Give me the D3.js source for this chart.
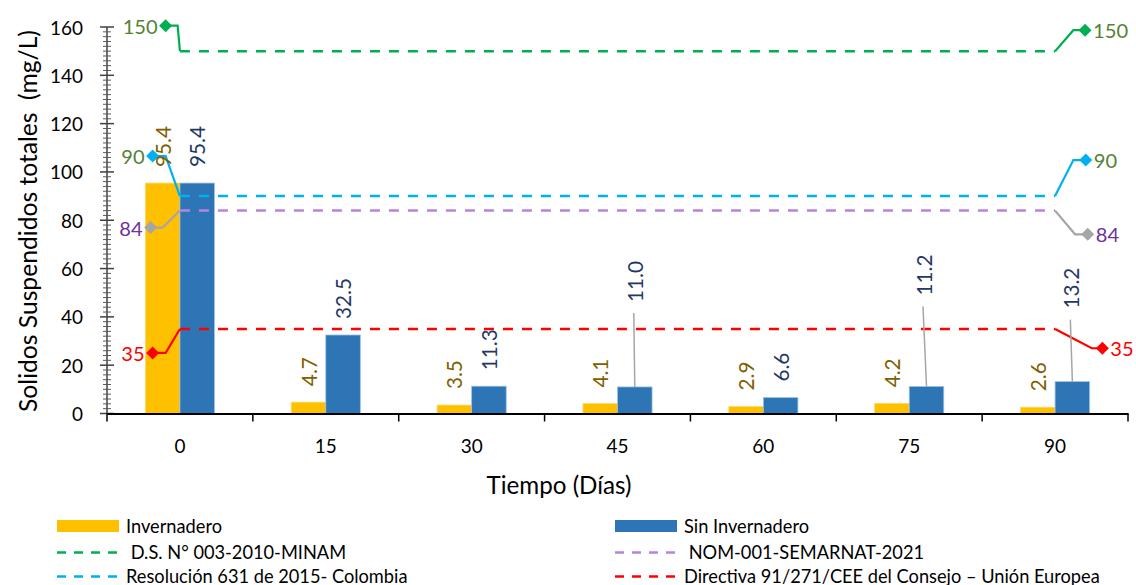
<!DOCTYPE html>
<html>
<head>
<meta charset="utf-8">
<script src="https://cdn.jsdelivr.net/npm/d3@7/dist/d3.min.js"></script>
<style>
  html, body { margin: 0; padding: 0; background: #fff; }
  svg { display: block; font-family: Lato, "Open Sans", sans-serif; }
</style>
</head>
<body>
<svg id="chart" width="1136" height="585"></svg>
<script>
// ---------------- DATA ----------------
const categories = ["0", "15", "30", "45", "60", "75", "90"];
const invernadero = [95.4, 4.7, 3.5, 4.1, 2.9, 4.2, 2.6];
const sinInvernadero = [95.4, 32.5, 11.3, 11.0, 6.6, 11.2, 13.2];
const yTicks = [0, 20, 40, 60, 80, 100, 120, 140, 160];
const limitNames = [" D.S. N° 003-2010-MINAM", " NOM-001-SEMARNAT-2021", "Resolución 631 de 2015- Colombia", "Directiva 91/271/CEE del Consejo – Unión Europea"];
const limitValues = [150, 84, 90, 35];
const limitLabels = ["150", "84", "90", "35"];
const seriesNames = ["Invernadero", "Sin Invernadero"];
const yTitle = "Solidos Suspendidos totales  (mg/L)";
const xTitle = "Tiempo (Días)";

// ---------------- STYLE / LAYOUT ----------------
const barColors = ["#FFC000", "#2E75B6"];
const valueLabelColors = ["#7F6000", "#1F3864"];
const limitColors = ["#00B050", "#B584E2", "#00B0F0", "#FF0000"];
const calloutLineColors = ["#00B050", "#A6A6A6", "#00B0F0", "#FF0000"];
const calloutLabelColors = ["#548235", "#7030A0", "#548235", "#FF0000"];
// callout geometry (px offsets from line ends): [kneeDx, dy, diamondDx]
const leftCallout = [[-2.3, -25.5, -14.3], [-17.3, 17, -29.3], [-14.3, -40, -27.3], [-14.3, 24, -27.3]];
const rightCallout = [[18.3, -21, 30], [20, 23.7, 32.7], [18.3, -36, 30.7], [36.7, 19.3, 47.3]];
// displaced value labels for "Sin Invernadero" (px lift, px dx), 0 = normal
const sinLabelLift = [0, 0, 0, 69, 0, 75, 57];
const sinLabelDx = [0, 0, 0, 0, 0, -2.5, -1];

const svg = d3.select("#chart");

// font-size fitting so text widths match the reference sizes
function fitSize(sample, targetWidth) {
  const t = svg.append("text").attr("font-size", 100).style("white-space", "pre").text(sample);
  const w = t.node().getComputedTextLength();
  t.remove();
  return w > 0 ? 100 * targetWidth / w : 18;
}
const fsYTick = fitSize("160", 33);
const fsXTick = fitSize("15", 22);
const fsValue = fitSize("32.5", 41);
const fsCallout = fitSize("150", 35);
const fsXTitle = fitSize(xTitle, 145);
const fsYTitle = fitSize(yTitle, 382);
const fsLegend = fitSize("Invernadero", 96);

const x = d3.scaleBand().domain(categories).range([107, 1128]).padding(0);
const y = d3.scaleLinear().domain([0, 160]).range([413.5, 27]);
const bw = x.bandwidth() * 0.237;
const cx = c => x(c) + x.bandwidth() / 2;

// ---------------- BARS ----------------
const seriesData = [invernadero, sinInvernadero];
seriesData.forEach((vals, si) => {
  svg.append("g").selectAll("rect").data(vals).join("rect")
    .attr("x", (d, i) => cx(categories[i]) + (si === 0 ? -bw : 0))
    .attr("y", d => y(d))
    .attr("width", bw)
    .attr("height", d => y(0) - y(d))
    .attr("fill", barColors[si])
    .attr("stroke", si === 0 ? "#FFD966" : "#9DC3E6")
    .attr("stroke-width", 0.8);
});

// ---------------- LIMIT LINES ----------------
const xStart = cx(categories[0]);
const xEnd = cx(categories[categories.length - 1]);
const diamond = (px, py, r) => `M${px},${py - r}L${px + r},${py}L${px},${py + r}L${px - r},${py}Z`;
limitValues.forEach((v, i) => {
  const g = svg.append("g");
  g.append("line")
    .attr("x1", xStart).attr("x2", xEnd)
    .attr("y1", y(v)).attr("y2", y(v))
    .attr("stroke", limitColors[i]).attr("stroke-width", 2.5)
    .attr("stroke-dasharray", "10,9");
  const [lk, ldy, ld] = leftCallout[i];
  const ly = y(v) + ldy;
  g.append("path")
    .attr("d", `M${xStart},${y(v)}L${xStart + lk},${ly}L${xStart + ld},${ly}`)
    .attr("fill", "none").attr("stroke", calloutLineColors[i]).attr("stroke-width", 2.2);
  g.append("path").attr("d", diamond(xStart + ld, ly, 6.5)).attr("fill", calloutLineColors[i]);
  g.append("text")
    .attr("x", xStart + ld - 8).attr("y", ly)
    .attr("text-anchor", "end").attr("dominant-baseline", "central")
    .attr("font-size", fsCallout).attr("fill", calloutLabelColors[i])
    .text(limitLabels[i]);
  const [rk, rdy, rd] = rightCallout[i];
  const ry = y(v) + rdy;
  g.append("path")
    .attr("d", `M${xEnd},${y(v)}L${xEnd + rk},${ry}L${xEnd + rd},${ry}`)
    .attr("fill", "none").attr("stroke", calloutLineColors[i]).attr("stroke-width", 2.2);
  g.append("path").attr("d", diamond(xEnd + rd, ry, 6.5)).attr("fill", calloutLineColors[i]);
  g.append("text")
    .attr("x", xEnd + rd + 8).attr("y", ry)
    .attr("text-anchor", "start").attr("dominant-baseline", "central")
    .attr("font-size", fsCallout).attr("fill", calloutLabelColors[i])
    .text(limitLabels[i]);
});

// ---------------- VALUE LABELS ----------------
seriesData.forEach((vals, si) => {
  vals.forEach((v, i) => {
    const bx = cx(categories[i]) + (si === 0 ? -bw / 2 : bw / 2);
    const lift = si === 1 ? sinLabelLift[i] : 0;
    const ldx = si === 1 ? sinLabelDx[i] : 0;
    const startY = y(v) - 16 - lift;
    const lx = bx + ldx;
    if (lift > 0) {
      svg.append("line")
        .attr("x1", lx - 1).attr("y1", startY + 11)
        .attr("x2", bx).attr("y2", y(v))
        .attr("stroke", "#A6A6A6").attr("stroke-width", 1.5);
    }
    svg.append("text")
      .attr("transform", `translate(${lx},${startY}) rotate(-90)`)
      .attr("text-anchor", "start").attr("dominant-baseline", "central")
      .attr("font-size", fsValue).attr("fill", valueLabelColors[si])
      .text(v.toFixed(1));
  });
});

// ---------------- AXES ----------------
const yAxisG = svg.append("g");
yAxisG.append("line").attr("x1", 107).attr("x2", 107).attr("y1", y(160)).attr("y2", y(0))
  .attr("stroke", "#404040").attr("stroke-width", 1.5);
const minorTicks = d3.range(0, 161, 2).filter(v => v % 20 !== 0);
yAxisG.selectAll(".minor").data(minorTicks).join("line")
  .attr("x1", 103).attr("x2", 111).attr("y1", d => y(d)).attr("y2", d => y(d))
  .attr("stroke", "#595959").attr("stroke-width", 1);
yAxisG.selectAll(".major").data(yTicks).join("line")
  .attr("x1", 100).attr("x2", 114).attr("y1", d => y(d)).attr("y2", d => y(d))
  .attr("stroke", "#404040").attr("stroke-width", 1.5);
yAxisG.selectAll("text").data(yTicks).join("text")
  .attr("x", 83).attr("y", d => y(d))
  .attr("text-anchor", "end").attr("dominant-baseline", "central")
  .attr("font-size", fsYTick).attr("fill", "#000")
  .text(d => d);

const xAxis = d3.axisBottom(x).tickSize(0).tickPadding(0);
const xAxisG = svg.append("g").attr("transform", `translate(0,${y(0)})`).call(xAxis);
xAxisG.select(".domain").attr("stroke", "#000").attr("stroke-width", 2);
xAxisG.selectAll(".tick text").attr("font-size", fsXTick).attr("fill", "#000")
  .attr("font-family", "Lato, sans-serif")
  .attr("dy", null).attr("y", 32).attr("dominant-baseline", "central");
const boundaries = categories.map(c => x(c)).concat([x(categories[categories.length - 1]) + x.bandwidth()]);
svg.append("g").selectAll("line").data(boundaries).join("line")
  .attr("x1", d => d).attr("x2", d => d).attr("y1", y(0)).attr("y2", y(0) + 8)
  .attr("stroke", "#000").attr("stroke-width", 1.5);

svg.append("text")
  .attr("transform", `translate(27,221) rotate(-90)`)
  .attr("text-anchor", "middle").attr("dominant-baseline", "central")
  .attr("font-size", fsYTitle).attr("fill", "#000")
  .style("white-space", "pre")
  .text(yTitle);
svg.append("text")
  .attr("x", 559).attr("y", 484)
  .attr("text-anchor", "middle").attr("dominant-baseline", "central")
  .attr("font-size", fsXTitle).attr("fill", "#000")
  .text(xTitle);

// ---------------- LEGEND ----------------
const legend = svg.append("g");
const legX = [57, 615];
const legRows = [526, 551.5, 575.5];
seriesNames.forEach((n, i) => {
  legend.append("rect").attr("x", legX[i]).attr("y", legRows[0] - 6).attr("width", 62).attr("height", 12)
    .attr("fill", barColors[i]);
  legend.append("text").attr("x", legX[i] + 69).attr("y", legRows[0])
    .attr("dominant-baseline", "central").attr("font-size", fsLegend).attr("fill", "#000").text(n);
});
const legendOrder = [[0, 0, 1], [1, 1, 1], [2, 0, 2], [3, 1, 2]]; // [limit index, column, row]
legendOrder.forEach(([li, col, row]) => {
  legend.append("line").attr("x1", legX[col]).attr("x2", legX[col] + 62)
    .attr("y1", legRows[row] + 1).attr("y2", legRows[row] + 1)
    .attr("stroke", limitColors[li]).attr("stroke-width", 2.5).attr("stroke-dasharray", "9,8");
  legend.append("text").attr("x", legX[col] + 69).attr("y", legRows[row])
    .attr("dominant-baseline", "central").attr("font-size", fsLegend).attr("fill", "#000")
    .style("white-space", "pre")
    .text(limitNames[li]);
});
</script>
</body>
</html>
